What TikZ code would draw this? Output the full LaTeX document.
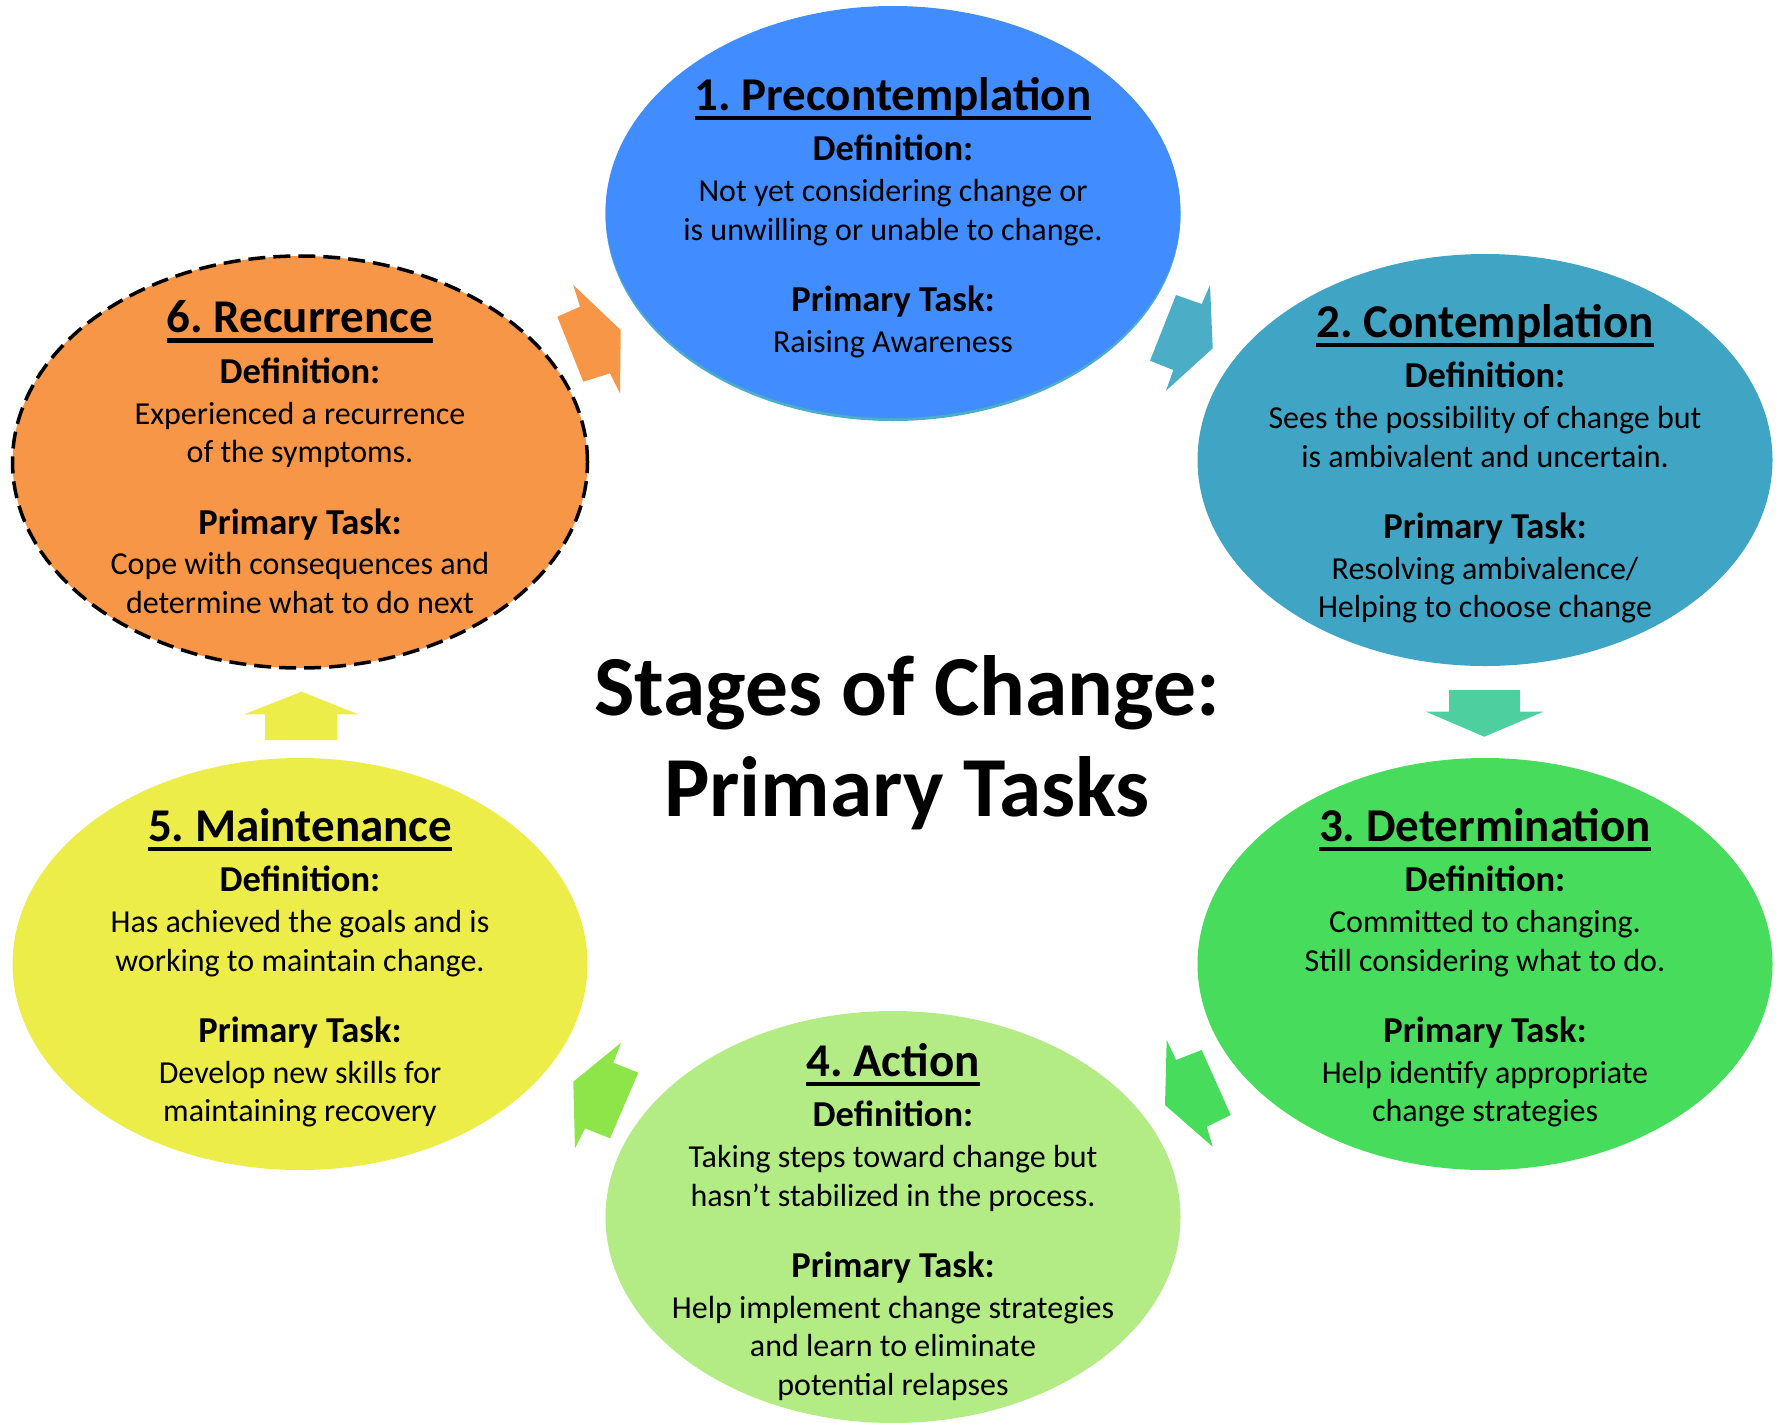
\documentclass[tikz,border=0pt]{standalone}
\usepackage{fontspec}
\setmainfont{Carlito}
\usetikzlibrary{shapes.geometric}
\frenchspacing

\definecolor{precol}{HTML}{418CFF}
\definecolor{concol}{HTML}{40A4C4}
\definecolor{detcol}{HTML}{47DC5C}
\definecolor{actcol}{HTML}{B3EC84}
\definecolor{maicol}{HTML}{EDED4A}
\definecolor{reccol}{HTML}{F79646}
\definecolor{edgecol}{HTML}{4BAEC6}
\definecolor{downcol}{HTML}{4ECF9F}
\definecolor{limecol}{HTML}{8EE54A}

\newcommand{\stagehead}[1]{{\fontsize{47}{50}\selectfont\bfseries\setbox0=\hbox{#1}\rlap{\rule[-0.21em]{\wd0}{0.09em}}\box0}}
\newcommand{\deflabel}{{\fontsize{36.5}{40}\selectfont\bfseries Definition:}}
\newcommand{\tasklabel}{{\fontsize{36.5}{40}\selectfont\bfseries Primary Task:}}

\tikzset{
  stage/.style={ellipse, minimum width=575pt, minimum height=412pt, inner sep=0pt},
  stagetext/.style={align=center, font=\fontsize{32}{38.5}\selectfont, inner sep=0pt},
}

\begin{document}
\begin{tikzpicture}[x=1pt, y=-1pt]
    \useasboundingbox (0,0) rectangle (1776,1422);
    % the six stages
    \node[stage, fill=edgecol] (pre-edge) at (893,215) {};
    \node[stage, fill=precol] (pre) at (893,212) {};
    \node[stage, fill=concol] (con) at (1485,460) {};
    \node[stage, fill=detcol] (det) at (1485,964) {};
    \node[stage, fill=actcol] (act) at (893,1217) {};
    \node[stage, fill=maicol] (mai) at (300,964) {};
    \node[stage, fill=reccol, draw=black, line width=3.5pt, dash pattern=on 17pt off 8pt] (rec) at (300,462) {};

    % arrows between the stages
    \fill[reccol] (573.3,285) -- (620.7,330) -- (620,393.3) -- (610,373.3) -- (583.3,381.7) -- (557.3,316.7) -- (580,306.7) -- cycle;
    \fill[edgecol] (1210,285) -- (1212.7,348.3) -- (1166,390.7) -- (1173.3,370) -- (1150,360.7) -- (1176,295) -- (1201.7,304) -- cycle;
    \fill[downcol] (1449,690) -- (1520,690) -- (1520,711.7) -- (1543.3,711.7) -- (1484.3,736.7) -- (1426,711.7) -- (1449,711.7) -- cycle;
    \fill[detcol] (1166.7,1040) -- (1176,1060) -- (1201.7,1050) -- (1230.7,1115) -- (1206.7,1126.7) -- (1212.7,1146.7) -- (1165,1105) -- cycle;
    \fill[limecol] (621,1042.7) -- (613.3,1062.7) -- (638.3,1072.7) -- (610,1138.3) -- (585,1128.3) -- (575,1148.3) -- (573.3,1081.7) -- cycle;
    \fill[maicol] (301.7,691.7) -- (358.3,714.3) -- (337.3,714.3) -- (337.3,740) -- (265,740) -- (265,714.3) -- (244,714.3) -- cycle;

    % texts
    \node[stagetext] (pre-txt) at ([yshift=-5.5pt]pre.center) {\stagehead{1. Precontemplation}\\[12pt] \deflabel\\[2.5pt]
      Not yet considering change or\\ is unwilling or unable to change.\\[33pt] \tasklabel\\[2pt] Raising Awareness};
    \node[stagetext] (con-txt) at ([yshift=-3.5pt]con.center) {\stagehead{2. Contemplation}\\[12pt] \deflabel\\[2.5pt]
      Sees the possibility of change but\\ is ambivalent and uncertain.\\[33pt] \tasklabel\\[2pt] Resolving ambivalence/\\ Helping to choose change};
    \node[stagetext] (det-txt) at ([yshift=-3.5pt]det.center) {\stagehead{3. Determination}\\[12pt] \deflabel\\[2.5pt]
      Committed to changing.\\ Still considering what to do.\\[33pt] \tasklabel\\[2pt] Help identify appropriate\\ change strategies};
    \node[stagetext] (act-txt) at ([yshift=-5pt]act.center) {\stagehead{4. Action}\\[12pt] \deflabel\\[2.5pt]
      Taking steps toward change but\\ hasn’t stabilized in the process.\\[33pt] \tasklabel\\[2pt] Help implement change strategies\\ and learn to eliminate\\ potential relapses};
    \node[stagetext] (mai-txt) at ([yshift=-3.5pt]mai.center) {\stagehead{5. Maintenance}\\[12pt] \deflabel\\[2.5pt]
      Has achieved the goals and is\\ working to maintain change.\\[33pt] \tasklabel\\[2pt] Develop new skills for\\ maintaining recovery};
    \node[stagetext] (rec-txt) at ([yshift=5pt]rec.center) {\stagehead{6. Recurrence}\\[12pt] \deflabel\\[2.5pt]
      Experienced a recurrence\\ of the symptoms.\\[33pt] \tasklabel\\[2pt] Cope with consequences and\\ determine what to do next};

    \node[align=center, font=\fontsize{85.5}{101}\selectfont\bfseries] (title) at (907,743) {Stages of Change:\\ Primary Tasks};
\end{tikzpicture}
\end{document}
